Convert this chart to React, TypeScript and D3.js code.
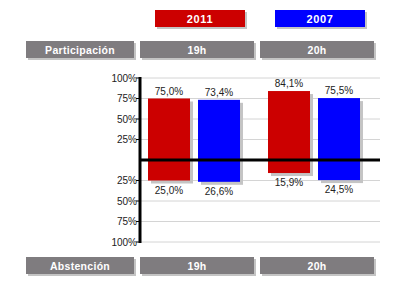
import React from "react";
import * as d3 from "d3";

const hours = ["19h", "20h"];
const years = ["2011", "2007"];
const participacion2011 = [75.0, 84.1];
const participacion2007 = [73.4, 75.5];
const abstencion2011 = [25.0, 15.9];
const abstencion2007 = [26.6, 24.5];
const yTicks = [25, 50, 75, 100];
const colors = ["#cc0000", "#0000ff"];

const W = 400;
const H = 300;
const FONT = "'Liberation Sans', Arial, sans-serif";

export default function App() {
  const x0 = d3.scaleBand<string>().domain(hours).range([140, 380]);
  const x1 = d3.scaleBand<string>().domain(years).range([8, 100]).paddingInner(0.16);
  const yTop = d3.scaleLinear().domain([0, 100]).range([160, 78]);
  const yBot = d3.scaleLinear().domain([0, 100]).range([160, 242]);
  const loc = d3.formatLocale({ decimal: ",", thousands: ".", grouping: [3], currency: ["", "€"] });
  const fmt = (v: number) => loc.format(".1f")(v) + "%";

  const part = [participacion2011, participacion2007];
  const abst = [abstencion2011, abstencion2007];

  const header = (x: number, y: number, w: number, h: number, label: string, fill: string, key: string, fs = 10.5, ls = 0.3) => (
    <g key={key}>
      <rect x={x + 2} y={y + 2} width={w} height={h} fill="#c4c4c4" />
      <rect x={x} y={y} width={w} height={h} fill={fill} />
      <text x={x + w / 2} y={y + h / 2 + 4} textAnchor="middle" fill="#fff" fontFamily={FONT} fontWeight="bold" fontSize={fs} letterSpacing={ls}>
        {label}
      </text>
    </g>
  );

  return (
    <svg width={W} height={H} style={{ position: "absolute", left: 0, top: 0, background: "#fff" }}>
      {/* legend */}
      {years.map((yr, i) => header(155 + i * 120, 10, 90, 17, yr, colors[i], "lg" + yr, 11, 0.6))}
      {/* top headers */}
      {header(26, 41, 108, 17, "Participación", "#7f7c7f", "hp")}
      {hours.map((h) => header(x0(h)!, 41, 114, 17, h, "#7f7c7f", "ht" + h))}
      {/* bottom headers */}
      {header(26, 257, 108, 17, "Abstención", "#7f7c7f", "hb")}
      {hours.map((h) => header(x0(h)!, 257, 114, 17, h, "#7f7c7f", "hbt" + h))}

      {/* gridlines */}
      {yTicks.map((t) => (
        <g key={"g" + t}>
          <line x1={140} x2={380} y1={yTop(t)} y2={yTop(t)} stroke="#d4d4d4" />
          <line x1={140} x2={380} y1={yBot(t)} y2={yBot(t)} stroke="#d4d4d4" />
          <line x1={136} x2={140} y1={yTop(t)} y2={yTop(t)} stroke="#000" />
          <line x1={136} x2={140} y1={yBot(t)} y2={yBot(t)} stroke="#000" />
          <text x={137} y={yTop(t) + 3.5} textAnchor="end" fontFamily={FONT} fontSize={10} fill="#222">{t}%</text>
          <text x={137} y={yBot(t) + 3.5} textAnchor="end" fontFamily={FONT} fontSize={10} fill="#222">{t}%</text>
        </g>
      ))}

      {/* bars */}
      {hours.map((h, hi) =>
        years.map((yr, yi) => {
          const x = x0(h)! + x1(yr)!;
          const bw = x1.bandwidth();
          const top = yTop(part[yi][hi]);
          const bot = yBot(abst[yi][hi]);
          return (
            <g key={h + yr}>
              <rect x={x + 3} y={top + 3} width={bw} height={bot - top} fill="#c4c4c4" />
              <rect x={x} y={top} width={bw} height={bot - top} fill={colors[yi]} />
              <text x={x + bw / 2} y={top - 4} textAnchor="middle" fontFamily={FONT} fontSize={10} fill="#222">
                {fmt(part[yi][hi])}
              </text>
              <text x={x + bw / 2} y={bot + 13} textAnchor="middle" fontFamily={FONT} fontSize={10} fill="#222">
                {fmt(abst[yi][hi])}
              </text>
            </g>
          );
        })
      )}

      {/* axes */}
      <line x1={139} x2={380} y1={160} y2={160} stroke="#000" strokeWidth={3} />
      <line x1={140} x2={140} y1={77} y2={243} stroke="#000" strokeWidth={3} />
    </svg>
  );
}
